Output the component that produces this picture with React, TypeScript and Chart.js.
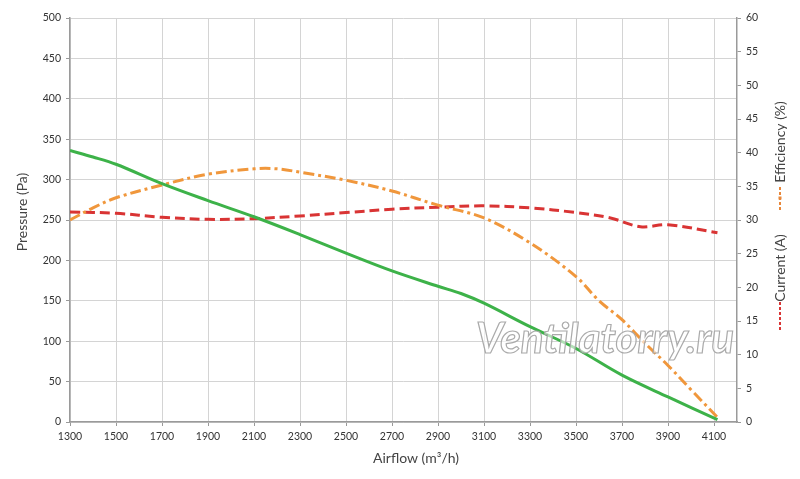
import React, { useEffect, useRef } from "react";
import { Chart, registerables } from "chart.js";

Chart.register(...registerables);

const xTicks = [1300, 1500, 1700, 1900, 2100, 2300, 2500, 2700, 2900, 3100, 3300, 3500, 3700, 3900, 4100];
const pressureX = [1300, 1400, 1500, 1700, 1900, 2100, 2300, 2500, 2700, 2900, 3000, 3100, 3300, 3500, 3700, 3900, 4115];
const pressureY = [336, 328, 319, 295, 274, 254, 232, 209, 187, 168, 159, 147, 118, 91, 58, 31, 3];
const effX = [1300, 1400, 1500, 1700, 1900, 2100, 2200, 2300, 2500, 2700, 2900, 3100, 3300, 3500, 3600, 3700, 3800, 3900, 4000, 4115];
const effY = [30, 31.8, 33.3, 35.2, 36.8, 37.6, 37.6, 37.1, 35.9, 34.3, 32.2, 30.3, 26.6, 21.6, 18.0, 15.2, 11.7, 8.4, 4.8, 0.7];
const curX = [1300, 1500, 1700, 1900, 2100, 2300, 2500, 2700, 2900, 3100, 3300, 3500, 3650, 3780, 3900, 4115];
const curY = [31.2, 31.0, 30.4, 30.1, 30.2, 30.6, 31.1, 31.6, 31.9, 32.1, 31.8, 31.1, 30.3, 29.0, 29.3, 28.1];

const FONT = "Lato, 'Open Sans', 'DejaVu Sans', sans-serif";

const overlay = {
  id: "overlay",
  afterDatasetsDraw(chart: any) {
    const ctx = chart.ctx;
    ctx.save();
    const txt = "Ventilatorry.ru";
    ctx.font = `italic bold 40px ${FONT}`;
    const w = ctx.measureText(txt).width;
    const size = (40 * 258) / w;
    ctx.font = `italic bold ${size}px ${FONT}`;
    ctx.textAlign = "left";
    ctx.textBaseline = "alphabetic";
    ctx.lineWidth = 1.2;
    ctx.fillStyle = "rgba(255,255,255,0.6)";
    ctx.strokeStyle = "rgba(165,165,165,0.95)";
    ctx.fillText(txt, 476, 353);
    ctx.strokeText(txt, 476, 353);
    ctx.restore();
  },
  afterDraw(chart: any) {
    const ctx = chart.ctx;
    ctx.save();
    ctx.fillStyle = "#444";
    ctx.font = `14px ${FONT}`;
    ctx.textAlign = "center";
    ctx.textBaseline = "middle";
    ctx.fillText("Airflow (m³/h)", 416, 458);
    const rot = (t: string, x: number, y: number) => {
      ctx.save();
      ctx.translate(x, y);
      ctx.rotate(-Math.PI / 2);
      ctx.fillText(t, 0, 0);
      ctx.restore();
    };
    rot("Pressure (Pa)", 22, 212);
    rot("Efficiency (%)", 780, 142);
    rot("Current (A)", 780, 268);
    ctx.lineWidth = 2;
    ctx.strokeStyle = "#e8873a";
    ctx.setLineDash([3, 2]);
    ctx.beginPath();
    ctx.moveTo(780, 187);
    ctx.lineTo(780, 210);
    ctx.stroke();
    ctx.setLineDash([]);
    ctx.fillStyle = "#e8873a";
    ctx.fillRect(778.5, 196.5, 3, 3);
    ctx.strokeStyle = "#d93434";
    ctx.setLineDash([3, 2]);
    ctx.beginPath();
    ctx.moveTo(780, 302);
    ctx.lineTo(780, 330);
    ctx.stroke();
    ctx.restore();
  },
};

export default function App() {
  const ref = useRef<HTMLCanvasElement>(null);
  useEffect(() => {
    const toPts = (xs: number[], ys: number[]) => xs.map((x, i) => ({ x, y: ys[i] }));
    const chart = new Chart(ref.current as HTMLCanvasElement, {
      type: "line",
      data: {
        datasets: [
          {
            label: "Pressure (Pa)",
            data: toPts(pressureX, pressureY),
            borderColor: "#3db249",
            borderWidth: 3,
            pointRadius: 0,
            tension: 0.35,
            yAxisID: "y",
          },
          {
            label: "Efficiency (%)",
            data: toPts(effX, effY),
            borderColor: "#f0973c",
            borderWidth: 3,
            borderDash: [11, 4, 3, 4],
            pointRadius: 0,
            tension: 0.35,
            yAxisID: "y2",
          },
          {
            label: "Current (A)",
            data: toPts(curX, curY),
            borderColor: "#d93434",
            borderWidth: 3,
            borderDash: [10, 5],
            pointRadius: 0,
            tension: 0.35,
            yAxisID: "y2",
          },
        ],
      },
      options: {
        responsive: false,
        animation: false,
        layout: { padding: { top: 18, left: 0, right: 0, bottom: 0 } },
        plugins: { legend: { display: false }, tooltip: { enabled: false } },
        scales: {
          x: {
            type: "linear",
            min: 1300,
            max: 4200,
            afterBuildTicks: (s: any) => {
              s.ticks = xTicks.map((v) => ({ value: v }));
            },
            afterFit: (s: any) => {
              s.height = 57;
            },
            grid: { color: "#d4d4d4", tickLength: 4, tickColor: "#999" },
            border: { color: "#9a9a9a", width: 1.5 },
            ticks: {
              color: "#333",
              font: { family: FONT, size: 10.5 },
              padding: 4,
              maxRotation: 0,
              autoSkip: false,
              callback: (v: any) => String(v),
            },
          },
          y: {
            position: "left",
            min: 0,
            max: 500,
            afterBuildTicks: (s: any) => {
              const t = [];
              for (let v = 0; v <= 500; v += 50) t.push({ value: v });
              s.ticks = t;
            },
            afterFit: (s: any) => {
              s.width = 70;
            },
            grid: { color: "#d4d4d4", tickLength: 4, tickColor: "#999" },
            border: { color: "#9a9a9a", width: 1.5 },
            ticks: { color: "#333", font: { family: FONT, size: 10.5 }, padding: 5 },
          },
          y2: {
            position: "right",
            min: 0,
            max: 60,
            afterBuildTicks: (s: any) => {
              const t = [];
              for (let v = 0; v <= 60; v += 5) t.push({ value: v });
              s.ticks = t;
            },
            afterFit: (s: any) => {
              s.width = 63;
            },
            grid: { drawOnChartArea: false, tickLength: 4, color: "#999" },
            border: { color: "#9a9a9a", width: 1.5 },
            ticks: { color: "#333", font: { family: FONT, size: 10.5 }, padding: 5 },
          },
        },
      } as any,
      plugins: [overlay],
    });
    return () => chart.destroy();
  }, []);
  return (
    <div style={{ position: "absolute", left: 0, top: 0, width: 800, height: 479, background: "#fff" }}>
      <canvas ref={ref} width={800} height={479} style={{ width: 800, height: 479 }} />
    </div>
  );
}
